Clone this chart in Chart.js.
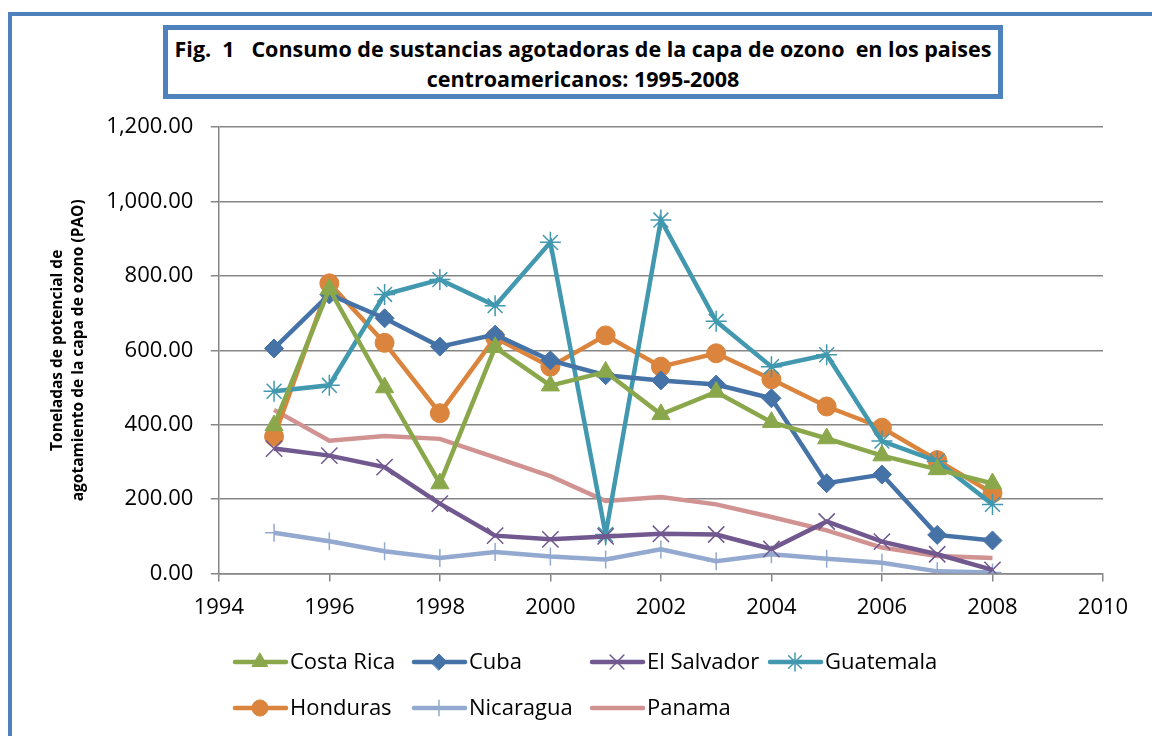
<!DOCTYPE html>
<html>
<head>
<meta charset="utf-8">
<script src="https://cdn.jsdelivr.net/npm/chart.js"></script>
<style>
  body { margin: 0; background: #fff; }
  #wrap { position: relative; width: 1152px; height: 736px; overflow: hidden; }
  #marco { position: absolute; left: 8px; top: 12px; width: 1200px; height: 800px; border: 4px solid #4F81BD; box-sizing: border-box; }
  #titulo { position: absolute; left: 163px; top: 25px; width: 840px; height: 74px; border: 5px solid #4F81BD; box-sizing: border-box; background: #fff;
    font-family: "Open Sans", sans-serif; font-weight: bold; font-size: 21.5px; line-height: 30px; text-align: center; padding-top: 4px; color: #000; white-space: nowrap; }
  canvas { position: absolute; left: 0; top: 0; }
</style>
</head>
<body>
<div id="wrap">
  <div id="marco"></div>
  <canvas id="grafico" width="1152" height="736"></canvas>
  <div id="titulo">Fig.&nbsp; 1 &nbsp; Consumo de sustancias agotadoras de la capa de ozono&nbsp; en los paises<br>centroamericanos: 1995-2008</div>
</div>
<script>
// Años y toneladas PAO por país
const anios = [1995, 1996, 1997, 1998, 1999, 2000, 2001, 2002, 2003, 2004, 2005, 2006, 2007, 2008];
const costaRica  = [398, 765, 500, 242, 608, 505, 542, 428, 488, 407, 363, 317, 280, 242];
const cuba       = [605, 750, 686, 610, 642, 573, 533, 519, 508, 471, 243, 266, 104, 89];
const elSalvador = [336, 317, 286, 188, 102, 92, 100, 107, 105, 66, 140, 86, 52, 10];
const guatemala  = [490, 506, 750, 790, 720, 890, 105, 950, 678, 556, 588, 356, 302, 186];
const honduras   = [368, 780, 620, 431, 634, 556, 640, 556, 592, 522, 449, 392, 305, 216];
const nicaragua  = [110, 87, 60, 42, 58, 46, 38, 65, 33, 52, 40, 29, 6, 3];
const panama     = [440, 357, 370, 362, 312, 262, 195, 206, 186, 152, 116, 70, 47, 42];
const ticksX = [1994, 1996, 1998, 2000, 2002, 2004, 2006, 2008, 2010];

const fuente = '"Open Sans", sans-serif';

function puntos(valores) {
    return anios.map((a, i) => ({ x: a, y: valores[i] }));
}

function serie(nombre, valores, color, estilo, radio, borde) {
    return {
        label: nombre,
        data: puntos(valores),
        borderColor: color,
        backgroundColor: color,
        borderWidth: 4.5,
        pointStyle: estilo,
        pointRadius: radio,
        pointBorderWidth: borde,
        pointBorderColor: color,
        pointBackgroundColor: color,
        tension: 0,
        fill: false
    };
}

const series = [
    serie('Costa Rica', costaRica, 'rgb(138,168,75)', 'triangle', 10.5, 1),
    serie('Cuba', cuba, 'rgb(69,114,167)', 'rectRot', 9.5, 1),
    serie('El Salvador', elSalvador, 'rgb(113,88,143)', 'crossRot', 11.5, 1.5),
    serie('Guatemala', guatemala, 'rgb(65,152,175)', 'star', 10.5, 1.5),
    serie('Honduras', honduras, 'rgb(219,132,61)', 'circle', 9.5, 1),
    serie('Nicaragua', nicaragua, 'rgb(147,169,207)', 'cross', 9, 1.5),
    serie('Panama', panama, 'rgb(209,147,146)', 'circle', 0, 0)
];

// posiciones de la leyenda (dos filas, cuatro columnas)
const leyendaX = [233, 412, 590, 768];
const leyendaY = [662, 708];

const leyendaPropia = {
    id: 'leyendaPropia',
    afterDraw(chart) {
        const ctx = chart.ctx;
        chart.data.datasets.forEach((ds, i) => {
            const x0 = leyendaX[i % 4];
            const y = leyendaY[Math.floor(i / 4)];
            ctx.save();
            ctx.strokeStyle = ds.borderColor;
            ctx.lineWidth = 4.5;
            ctx.lineCap = 'round';
            ctx.beginPath();
            ctx.moveTo(x0 + 2, y);
            ctx.lineTo(x0 + 53, y);
            ctx.stroke();
            if (ds.pointRadius > 0 && Chart.helpers && Chart.helpers.drawPoint) {
                ctx.fillStyle = ds.pointBackgroundColor;
                ctx.strokeStyle = ds.pointBorderColor;
                ctx.lineWidth = ds.pointBorderWidth;
                Chart.helpers.drawPoint(ctx, {
                    pointStyle: ds.pointStyle,
                    radius: ds.pointRadius * 0.85,
                    rotation: 0,
                    borderWidth: ds.pointBorderWidth
                }, x0 + 27, y);
            }
            ctx.fillStyle = '#000';
            ctx.font = '22px ' + fuente;
            ctx.textBaseline = 'middle';
            ctx.textAlign = 'left';
            ctx.fillText(ds.label, x0 + 57, y + 1);
            ctx.restore();
        });
    }
};

new Chart(document.getElementById('grafico'), {
    type: 'line',
    data: { datasets: series },
    options: {
        responsive: false,
        animation: false,
        layout: { padding: { left: 47, top: 127, right: 49, bottom: 102 } },
        plugins: {
            legend: { display: false },
            title: { display: false },
            tooltip: { enabled: false }
        },
        scales: {
            x: {
                type: 'linear',
                min: 1994,
                max: 2010,
                afterBuildTicks: (eje) => { eje.ticks = ticksX.map(v => ({ value: v })); },
                ticks: {
                    color: '#000',
                    font: { family: fuente, size: 22 },
                    padding: 13,
                    maxRotation: 0,
                    callback: (v) => String(v)
                },
                grid: {
                    drawOnChartArea: false,
                    drawTicks: true,
                    tickLength: 8,
                    color: '#868686',
                    lineWidth: 1.5
                },
                border: { color: '#868686', width: 1.5 }
            },
            y: {
                min: 0,
                max: 1200,
                ticks: {
                    stepSize: 200,
                    color: '#000',
                    font: { family: fuente, size: 22 },
                    padding: 17.5,
                    callback: (v) => v.toLocaleString('en-US', { minimumFractionDigits: 2, maximumFractionDigits: 2 })
                },
                grid: {
                    color: '#868686',
                    lineWidth: 1.5,
                    drawTicks: true,
                    tickLength: 8
                },
                border: { color: '#868686', width: 1.5 },
                title: {
                    display: true,
                    text: ['Toneladas de potencial de', 'agotamiento de la capa de ozono (PAO)'],
                    color: '#000',
                    font: { family: fuente, size: 15.5, weight: 'bold', lineHeight: 1.35 },
                    padding: { top: 0, bottom: 0 }
                }
            }
        }
    },
    plugins: [leyendaPropia]
});
</script>
</body>
</html>
